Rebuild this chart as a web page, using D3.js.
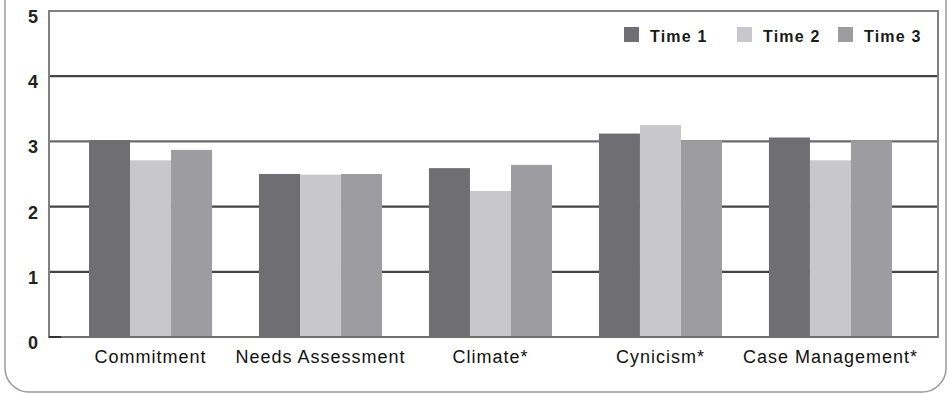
<!DOCTYPE html>
<html>
<head>
<meta charset="utf-8">
<script src="https://cdn.jsdelivr.net/npm/d3@7"></script>
<style>
  html, body { margin: 0; padding: 0; background: #fff; }
  svg { display: block; }
</style>
</head>
<body>
<svg id="chart" width="950" height="396"></svg>
<script>
// Scale categories and mean scores at each time point
const categories = ["Commitment", "Needs Assessment", "Climate*", "Cynicism*", "Case Management*"];
const seriesNames = ["Time 1", "Time 2", "Time 3"];
const time1 = [3.02, 2.50, 2.59, 3.12, 3.06];
const time2 = [2.71, 2.49, 2.24, 3.25, 2.71];
const time3 = [2.87, 2.50, 2.64, 3.01, 3.01];
const yTicks = [0, 1, 2, 3, 4, 5];
const colors = ["#6f6f73", "#c8c8cc", "#9d9da1"];

const series = [time1, time2, time3];
const svg = d3.select("#chart");

const plot = { left: 49, right: 938, top: 11, bottom: 337 };

// Rounded outer frame (top edge lies above the visible area)
svg.append("rect")
  .attr("x", 5).attr("y", -40)
  .attr("width", 941).attr("height", 432)
  .attr("rx", 24).attr("ry", 24)
  .attr("fill", "none")
  .attr("stroke", "#9a9a9a")
  .attr("stroke-width", 1.5);

const x0 = d3.scaleBand()
  .domain(categories)
  .range([plot.left, plot.right])
  .paddingInner(0.276)
  .paddingOuter(0.253)
  .align(0.465);

const x1 = d3.scaleBand()
  .domain(seriesNames)
  .range([0, x0.bandwidth()])
  .padding(0);

const y = d3.scaleLinear().domain([0, 5]).range([plot.bottom, plot.top]);

// Horizontal gridlines
svg.append("g")
  .selectAll("line")
  .data(yTicks.filter(t => t > 0 && t < 5))
  .join("line")
  .attr("x1", plot.left).attr("x2", plot.right)
  .attr("y1", d => y(d)).attr("y2", d => y(d))
  .attr("stroke", d => d === 3 ? "#6a6a6a" : "#454545")
  .attr("stroke-width", 2.2);

// Plot border
svg.append("rect")
  .attr("x", plot.left).attr("y", plot.top)
  .attr("width", plot.right - plot.left).attr("height", plot.bottom - plot.top)
  .attr("fill", "none")
  .attr("stroke", "#808080")
  .attr("stroke-width", 2);

// Bars
const groups = svg.append("g")
  .selectAll("g")
  .data(categories)
  .join("g")
  .attr("transform", d => `translate(${x0(d)},0)`);

groups.selectAll("rect")
  .data((c, ci) => seriesNames.map((s, si) => ({ s, si, v: series[si][ci] })))
  .join("rect")
  .attr("x", d => x1(d.s))
  .attr("width", x1.bandwidth())
  .attr("y", d => y(d.v))
  .attr("height", d => y(0) - y(d.v))
  .attr("fill", d => colors[d.si]);

// Baseline and small stub at zero
svg.append("line")
  .attr("x1", plot.left).attr("x2", plot.right)
  .attr("y1", y(0)).attr("y2", y(0))
  .attr("stroke", "#707070").attr("stroke-width", 2);
svg.append("line")
  .attr("x1", plot.left).attr("x2", plot.left + 12)
  .attr("y1", y(0)).attr("y2", y(0))
  .attr("stroke", "#333").attr("stroke-width", 2);

// Y-axis labels
svg.append("g")
  .selectAll("text")
  .data(yTicks)
  .join("text")
  .attr("x", 33)
  .attr("y", d => y(d) + 12)
  .attr("text-anchor", "middle")
  .attr("font-family", "'Liberation Sans', Arial, sans-serif")
  .attr("font-weight", "bold")
  .attr("font-size", 18)
  .attr("fill", "#222")
  .text(d => d);

// Category labels
svg.append("g")
  .selectAll("text")
  .data(categories)
  .join("text")
  .attr("x", d => x0(d) + x0.bandwidth() / 2)
  .attr("y", 363)
  .attr("text-anchor", "middle")
  .attr("font-family", "'Liberation Sans', Arial, sans-serif")
  .attr("font-size", 18)
  .attr("letter-spacing", 1)
  .attr("fill", "#111")
  .text(d => d);

// Legend
const legendX = [624, 737, 838];
const legend = svg.append("g")
  .selectAll("g")
  .data(seriesNames)
  .join("g")
  .attr("transform", (d, i) => `translate(${legendX[i]},27)`);
legend.append("rect")
  .attr("width", 15).attr("height", 15)
  .attr("fill", (d, i) => colors[i]);
legend.append("text")
  .attr("x", 26).attr("y", 15)
  .attr("font-family", "'Liberation Sans', Arial, sans-serif")
  .attr("font-weight", "bold")
  .attr("font-size", 16)
  .attr("letter-spacing", 1.2)
  .attr("fill", "#1a1a1a")
  .text(d => d);
</script>
</body>
</html>
